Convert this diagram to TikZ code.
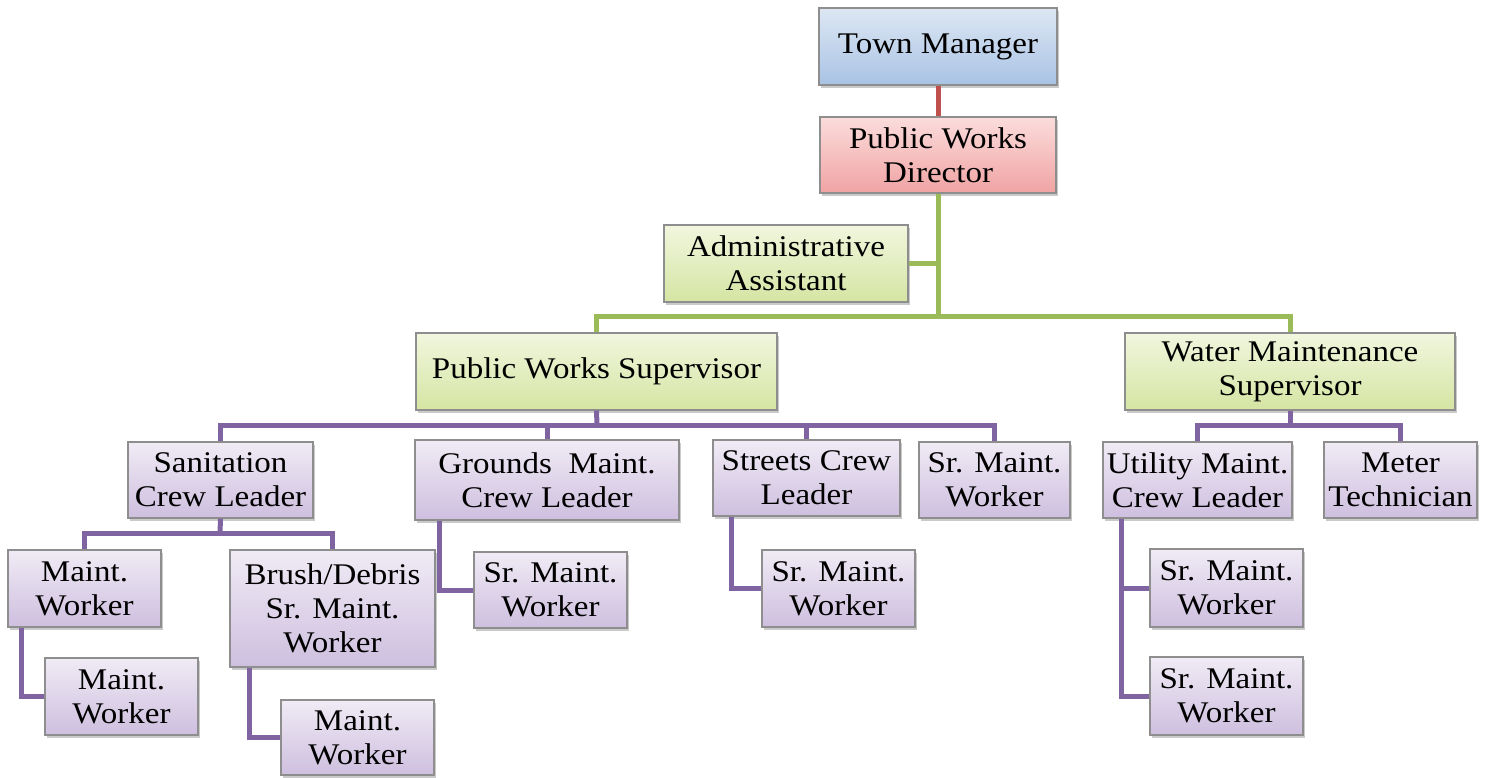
\documentclass[tikz,border=0pt]{standalone}
\usepackage{fontspec}
\setmainfont{Liberation Serif}[FakeStretch=1.1]
\usetikzlibrary{shadows}
\definecolor{bluetop}{HTML}{DDE7F3}
\definecolor{bluebot}{HTML}{A9C3E5}
\definecolor{redtop}{HTML}{FBDCDC}
\definecolor{redbot}{HTML}{F1A3A3}
\definecolor{greentop}{HTML}{F1F6DE}
\definecolor{greenbot}{HTML}{D5E5A3}
\definecolor{purptop}{HTML}{F0EBF5}
\definecolor{purpbot}{HTML}{CEBFDF}
\definecolor{boxborder}{HTML}{8E8E8E}
\definecolor{redln}{HTML}{C0504D}
\definecolor{greenln}{HTML}{9BBB59}
\definecolor{purpln}{HTML}{8064A2}
\tikzset{
  orgbox/.style={draw=boxborder, line width=1.2pt, align=center, inner sep=0pt,
    font=\fontsize{30}{34}\selectfont,
    drop shadow={shadow xshift=1.5pt, shadow yshift=-2.5pt, opacity=0.35, fill=black!60}},
  bluebox/.style={orgbox, top color=bluetop, bottom color=bluebot},
  redbox/.style={orgbox, top color=redtop, bottom color=redbot},
  greenbox/.style={orgbox, top color=greentop, bottom color=greenbot},
  purpbox/.style={orgbox, top color=purptop, bottom color=purpbot},
  conn/.style={line width=5pt},
  redconn/.style={conn, draw=redln},
  greenconn/.style={conn, draw=greenln},
  purpconn/.style={conn, draw=purpln}
}
\begin{document}
\begin{tikzpicture}[x=1pt, y=-1pt]
\useasboundingbox (0,0) rectangle (1493,777);
% coordinates for buses
\coordinate (gbus) at (938,316);
\coordinate (pbus) at (597,425);
\coordinate (wbus) at (1290,425);
\coordinate (sbus) at (220,533);

% connectors (drawn first, behind boxes)
\path (938,46.5) coordinate (tmc) (938,155) coordinate (pwdc);
% nodes
\node[bluebox, minimum width=238pt, minimum height=77pt] (tm) at (938,46.5) {Town Manager};
\node[redbox, minimum width=236pt, minimum height=76pt] (pwd) at (938,155) {Public Works\\Director};
\node[greenbox, minimum width=244pt, minimum height=77pt] (aa) at (786,263.5) {Administrative\\Assistant};
\node[greenbox, minimum width=361pt, minimum height=77pt] (pws) at (596.5,371.5) {Public Works Supervisor};
\node[greenbox, minimum width=330pt, minimum height=77pt] (wms) at (1290,371.5) {Water Maintenance\\Supervisor};

\node[purpbox, minimum width=185pt, minimum height=76pt] (san) at (220.5,480) {Sanitation\\Crew Leader};
\node[purpbox, minimum width=264pt, minimum height=80pt] (gml) at (547,480) {Grounds\ \ Maint.\\Crew Leader};
\node[purpbox, minimum width=187pt, minimum height=76pt] (scl) at (806.5,478) {Streets Crew\\Leader};
\node[purpbox, minimum width=151pt, minimum height=76pt] (sra) at (994.5,480) {Sr. Maint.\\Worker};
\node[purpbox, minimum width=189pt, minimum height=76pt] (uml) at (1197.5,480) {Utility Maint.\\Crew Leader};
\node[purpbox, minimum width=153pt, minimum height=76pt] (met) at (1400.5,480) {Meter\\Technician};

\node[purpbox, minimum width=153pt, minimum height=77pt] (mwa) at (84.5,588.5) {Maint.\\Worker};
\node[purpbox, minimum width=205pt, minimum height=117pt] (brush) at (332.5,608.5) {Brush/Debris\\Sr. Maint.\\Worker};
\node[purpbox, minimum width=153pt, minimum height=77pt] (mwb) at (121.5,696.5) {Maint.\\Worker};
\node[purpbox, minimum width=153pt, minimum height=75pt] (mwc) at (357.5,737.5) {Maint.\\Worker};
\node[purpbox, minimum width=153pt, minimum height=76pt] (srb) at (550.5,590) {Sr. Maint.\\Worker};
\node[purpbox, minimum width=153pt, minimum height=77pt] (src) at (838.5,588.5) {Sr. Maint.\\Worker};
\node[purpbox, minimum width=153pt, minimum height=78pt] (srd) at (1226.5,588) {Sr. Maint.\\Worker};
\node[purpbox, minimum width=153pt, minimum height=78pt] (sre) at (1226.5,696) {Sr. Maint.\\Worker};

% connectors
\draw[redconn] (tm.south) -- (pwd.north);
\draw[greenconn] (pwd.south) -- (gbus);
\draw[greenconn] (aa.east) -- (aa.east -| gbus);
\draw[greenconn] (pws.north) |- (gbus) -| (wms.north);

\draw[purpconn] (pws.south) -- (pbus);
\draw[purpconn] (san.north) |- (pbus) -| (sra.north);
\draw[purpconn] (gml.north) -- (gml.north |- pbus);
\draw[purpconn] (scl.north) -- (scl.north |- pbus);

\draw[purpconn] (wms.south) -- (wbus);
\draw[purpconn] (uml.north) |- (wbus) -| (met.north);

\draw[purpconn] (san.south) -- (sbus);
\draw[purpconn] (mwa.north) |- (sbus) -| (brush.north);

\draw[purpconn] ([xshift=14.5pt]mwa.south west) |- (mwb.west);
\draw[purpconn] ([xshift=20pt]brush.south west) |- (mwc.west);
\draw[purpconn] ([xshift=25pt]gml.south west) |- (srb.west);
\draw[purpconn] ([xshift=19pt]scl.south west) |- (src.west);
\draw[purpconn] ([xshift=19pt]uml.south west) |- (srd.west);
\draw[purpconn] ([xshift=19pt]uml.south west) |- (sre.west);
\end{tikzpicture}
\end{document}
